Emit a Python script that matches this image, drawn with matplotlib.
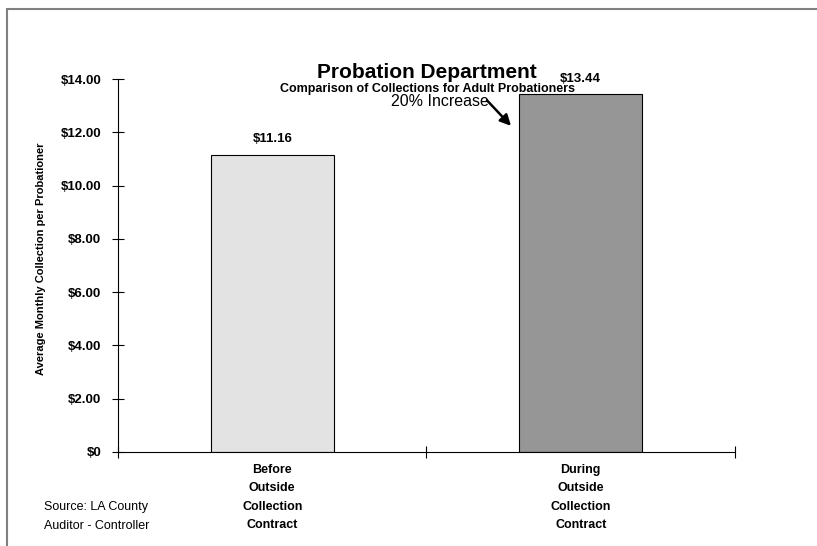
import matplotlib.pyplot as plt
from matplotlib.patches import Rectangle

categories = ['Before\nOutside\nCollection\nContract', 'During\nOutside\nCollection\nContract']
values = [11.16, 13.44]
value_labels = ['$11.16', '$13.44']
bar_colors = ['#e3e3e3', '#969696']
yticks = [0, 2, 4, 6, 8, 10, 12, 14]
ytick_labels = ['$0', '$2.00', '$4.00', '$6.00', '$8.00', '$10.00', '$12.00', '$14.00']

plt.rcParams['font.family'] = ['Liberation Sans', 'DejaVu Sans']

fig = plt.figure(figsize=(8.17, 5.46), dpi=100)
ax = fig.add_axes([118 / 817, 1 - 452 / 546, (735 - 118) / 817, (452 - 79) / 546])

# outer frame like the original sheet
fig.patches.append(Rectangle((7 / 817, -0.1), 1.2, 1 - 9 / 546 + 0.1, transform=fig.transFigure,
                             fill=False, edgecolor='#808080', linewidth=1.5))

x = range(len(values))
ax.bar(x, values, width=0.4, color=bar_colors, edgecolor='black', linewidth=0.8)
for xi, v, lab in zip(x, values, value_labels):
    ax.text(xi, v + 0.35, lab, ha='center', va='bottom', fontsize=9.5, fontweight='bold')

ax.set_xlim(-0.5, 1.5)
ax.set_ylim(0, 14)
ax.set_yticks(yticks)
ax.set_yticklabels(ytick_labels, fontsize=9.5, fontweight='bold')
ax.set_xticks([-0.5, 0.5, 1.5])
ax.set_xticklabels([])
ax.tick_params(axis='x', direction='inout', length=8, width=0.8)
ax.tick_params(axis='y', direction='inout', length=8, width=0.8, pad=8)
for xi, cat in zip(x, categories):
    ax.text(xi, -0.45, cat, ha='center', va='top', fontsize=9, fontweight='bold',
            linespacing=1.7)

for s in ['top', 'right']:
    ax.spines[s].set_visible(False)
ax.spines['left'].set_linewidth(0.8)
ax.spines['bottom'].set_linewidth(0.8)

ax.set_ylabel('Average Monthly Collection per Probationer', fontsize=8, fontweight='bold')
ax.yaxis.set_label_coords(-0.117, 0.518)

fig.text(427 / 817, 1 - 72 / 546, 'Probation Department', ha='center', va='center',
         fontsize=15, fontweight='bold')
fig.text(427 / 817, 1 - 89 / 546, 'Comparison of Collections for Adult Probationers', ha='center',
         va='center', fontsize=9, fontweight='bold')

# "20% Increase" note with arrow pointing at the second bar
ax.text(0.385, 13.15, '20% Increase', fontsize=11.5, va='center', ha='left')
ax.annotate('', xy=(0.774, 12.24), xytext=(0.696, 13.2),
            arrowprops=dict(arrowstyle='-|>', color='black', lw=1.8, mutation_scale=16,
                            shrinkA=0, shrinkB=0))

fig.text(44 / 817, 1 - 507 / 546, 'Source: LA County', fontsize=9, va='center')
fig.text(44 / 817, 1 - 526 / 546, 'Auditor - Controller', fontsize=9, va='center')

fig.savefig('out.png', dpi=100)
